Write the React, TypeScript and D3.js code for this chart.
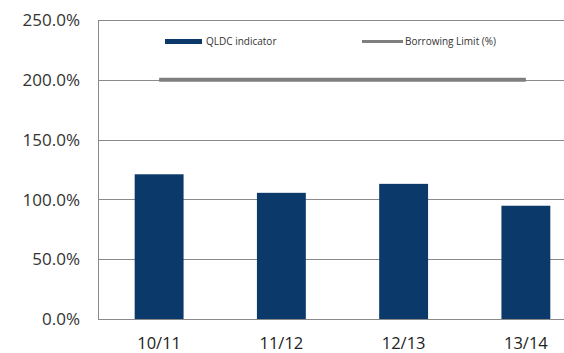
import React from "react";
import * as d3 from "d3";

const categories = ["10/11", "11/12", "12/13", "13/14"];
const qldcValues = [121, 105.5, 113, 94.7];
const borrowingLimit = [200, 200, 200, 200];
const yTicks = [0, 50, 100, 150, 200, 250];
const legendLabels = ["QLDC indicator", "Borrowing Limit (%)"];

const W = 564;
const H = 353;
const FONT = "'Open Sans', 'Liberation Sans', sans-serif";

export default function App() {
  const plotLeft = 98;
  const plotRight = 587;
  const plotTop = 20;
  const plotBottom = 319;

  const x = d3
    .scaleBand<string>()
    .domain(categories)
    .range([plotLeft, plotRight])
    .paddingInner(0.6)
    .paddingOuter(0.3);
  const y = d3.scaleLinear().domain([0, 250]).range([plotBottom, plotTop]);
  const bw = x.bandwidth();

  const line = d3
    .line<number>()
    .x((_, i) => (x(categories[i]) as number) + bw / 2)
    .y((d) => y(d));

  return (
    <svg
      width={W}
      height={H}
      style={{ position: "absolute", left: 0, top: 0, background: "#fff" }}
    >
      <rect x={0} y={0} width={W} height={H} fill="#fff" />
      {/* gridlines */}
      {yTicks.map((t) => (
        <line
          key={t}
          x1={plotLeft}
          x2={W}
          y1={Math.round(y(t)) + 0.5}
          y2={Math.round(y(t)) + 0.5}
          stroke="#8a8a8a"
          strokeWidth={1}
        />
      ))}
      <line
        x1={plotLeft + 0.5}
        x2={plotLeft + 0.5}
        y1={plotTop}
        y2={plotBottom + 1}
        stroke="#8a8a8a"
        strokeWidth={1}
      />
      {/* y labels */}
      {yTicks.map((t) => (
        <text
          key={t}
          x={80}
          y={y(t)}
          dy="0.36em"
          textAnchor="end"
          fontFamily={FONT}
          fontSize={17}
          fill="#333"
        >
          {t.toFixed(1) + "%"}
        </text>
      ))}
      {/* bars */}
      {qldcValues.map((v, i) => (
        <rect
          key={categories[i]}
          x={x(categories[i])}
          y={y(v)}
          width={bw}
          height={y(0) - y(v)}
          fill="#0b3a6a"
        />
      ))}
      {/* borrowing limit line */}
      <path
        d={line(borrowingLimit) || ""}
        fill="none"
        stroke="#7f7f7f"
        strokeWidth={4}
      />
      {/* x labels */}
      {categories.map((c) => (
        <text
          key={c}
          x={(x(c) as number) + bw / 2}
          y={348.5}
          textAnchor="middle"
          fontFamily={FONT}
          fontSize={16.5}
          fill="#222"
        >
          {c}
        </text>
      ))}
      {/* legend */}
      <rect x={165} y={39} width={37} height={5} fill="#0b3a6a" />
      <text x={206} y={45} fontFamily={FONT} fontSize={10} fill="#333">
        {legendLabels[0]}
      </text>
      <rect x={362} y={40} width={41} height={3} fill="#7f7f7f" />
      <text x={405} y={45} fontFamily={FONT} fontSize={10} fill="#333">
        {legendLabels[1]}
      </text>
    </svg>
  );
}
